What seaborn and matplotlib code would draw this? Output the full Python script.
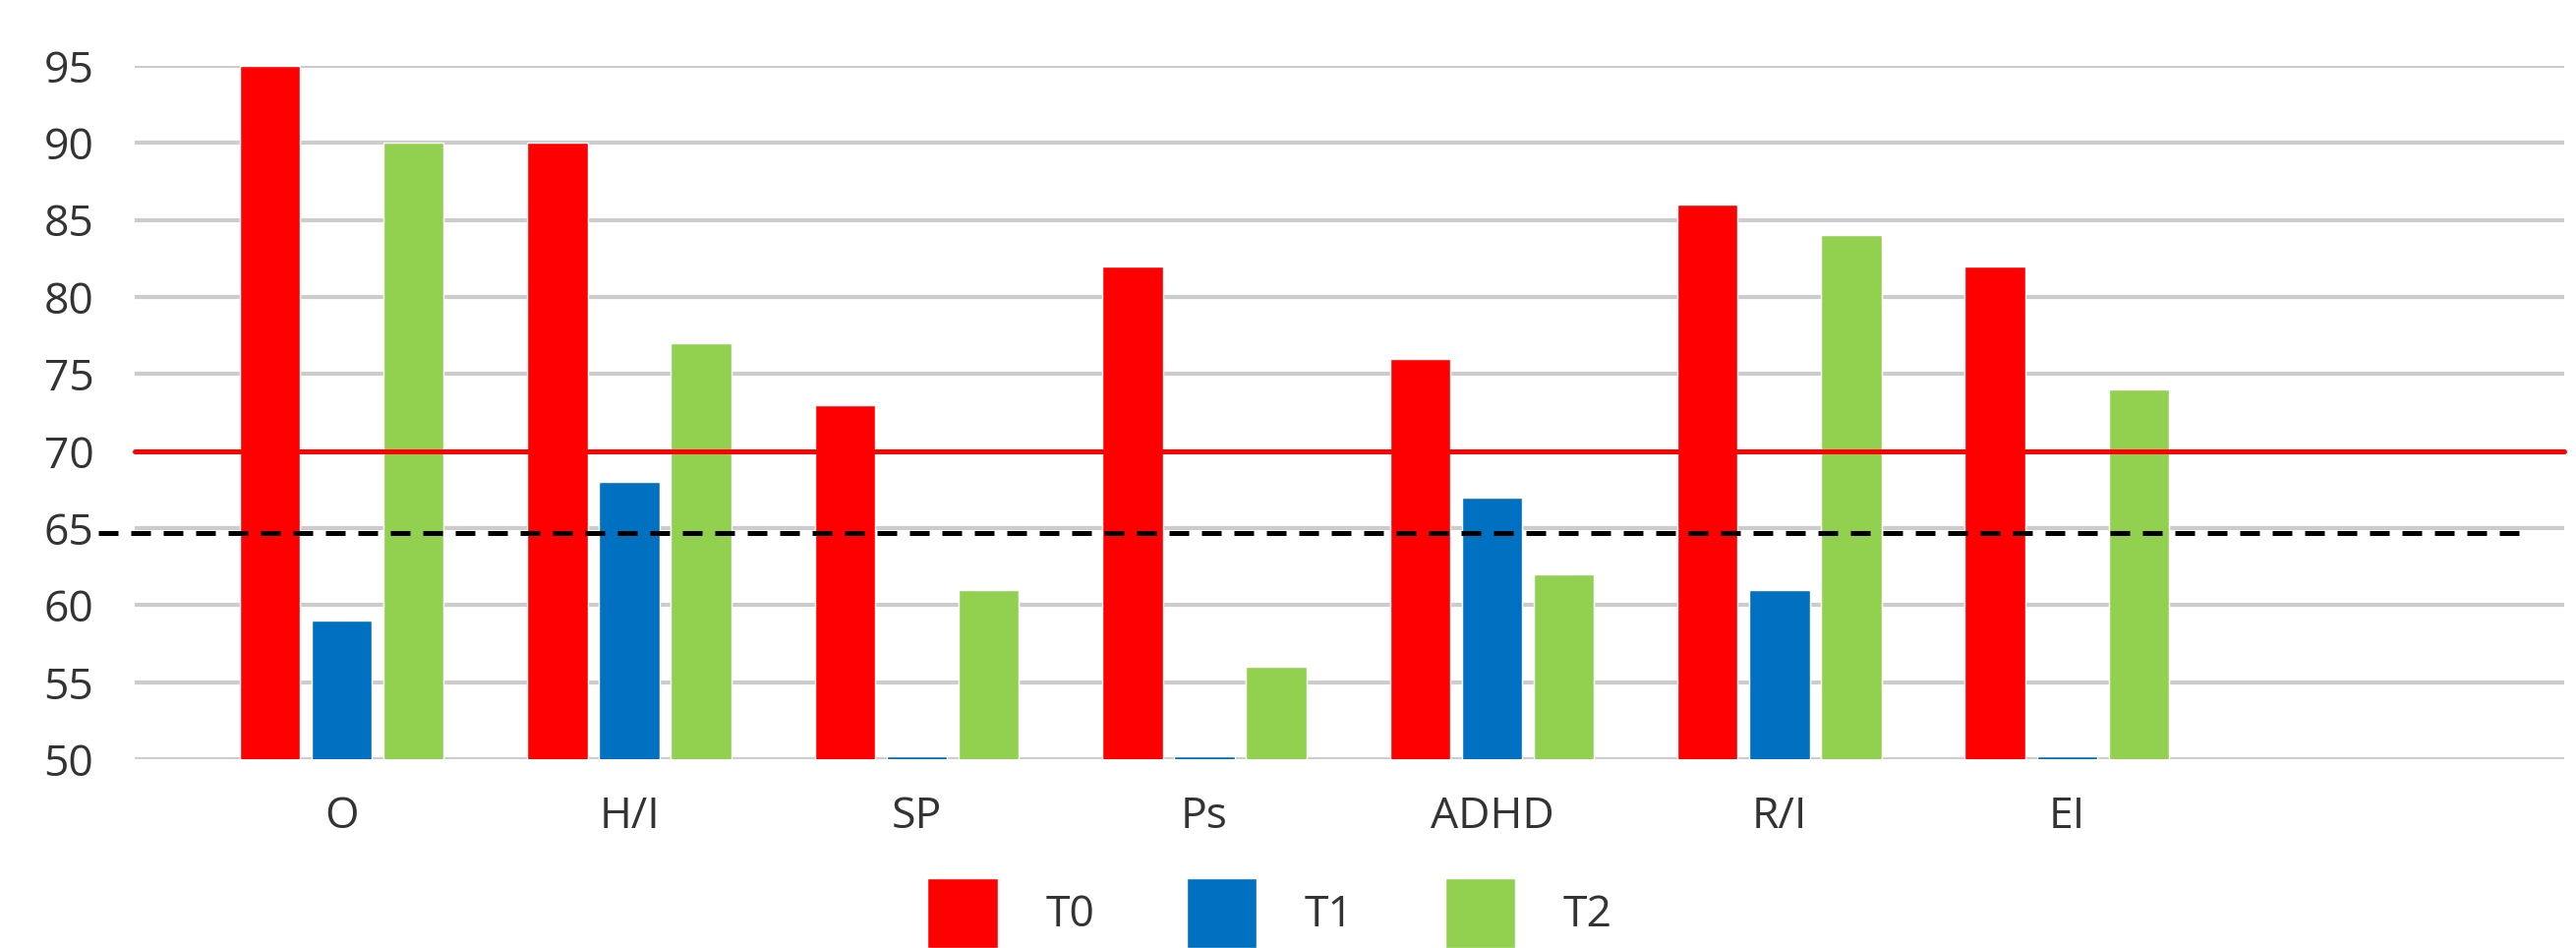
import pandas as pd
import matplotlib
matplotlib.use("Agg")
import matplotlib.pyplot as plt
import seaborn as sns

# ==============================
# DATA
# ==============================
categories = ["O", "H/I", "SP", "Ps", "ADHD", "R/I", "EI"]
series = ["T0", "T1", "T2"]
t0 = [95, 90, 73, 82, 76, 86, 82]
t1 = [59, 68, 50.2, 50.2, 67, 61, 50.2]
t2 = [90, 77, 61, 56, 62, 84, 74]
yticks = [50, 55, 60, 65, 70, 75, 80, 85, 90, 95]
red_limit = 70
dash_limit = 64.7

colors = {"T0": "#ff0000", "T1": "#0070c0", "T2": "#92d050"}

df = pd.DataFrame({
    "cat": categories * 3,
    "time": ["T0"] * 7 + ["T1"] * 7 + ["T2"] * 7,
    "val": t0 + t1 + t2,
})

# ==============================
# PLOT
# ==============================
sns.set_style("white")
plt.rcParams["font.family"] = ["Open Sans", "DejaVu Sans"]

fig = plt.figure(figsize=(26.2, 9.64), dpi=100)
ax = fig.add_axes([0.0523, 0.199, 0.9432, 0.7315])

sns.barplot(data=df, x="cat", y="val", hue="time", palette=colors,
            width=0.75, gap=0.16, ax=ax, saturation=1, legend=True)

ax.set_ylim(50, 95)
ax.set_xlim(-0.72, 7.73)
ax.set_yticks(yticks)
ax.grid(axis="y", color="#cccccc", linewidth=3.0)
ax.set_axisbelow(True)
for s in ax.spines.values():
    s.set_visible(False)
ax.tick_params(axis="both", length=0, labelsize=32, labelcolor="#333333")
ax.tick_params(axis="y", pad=30)
ax.tick_params(axis="x", pad=26)
ax.set_xlabel("")
ax.set_ylabel("")

# threshold lines
ax.axhline(red_limit, xmin=0, xmax=1, color="#ff0000", linewidth=3.6, clip_on=False)
ax.plot([-0.015, 0.984], [dash_limit, dash_limit], transform=ax.get_yaxis_transform(),
        color="black", linewidth=3.6, dashes=(4, 2.6), clip_on=False)

handles, labels = ax.get_legend_handles_labels()
ax.get_legend().remove()
fig.legend(handles, labels, loc="upper center", bbox_to_anchor=(0.493, 0.097),
           ncol=3, frameon=False, fontsize=32, handlelength=1.6, handleheight=2.1,
           handletextpad=1.1, columnspacing=2.1, borderpad=0, labelcolor="#333333")

fig.savefig("out.png", dpi=100)
